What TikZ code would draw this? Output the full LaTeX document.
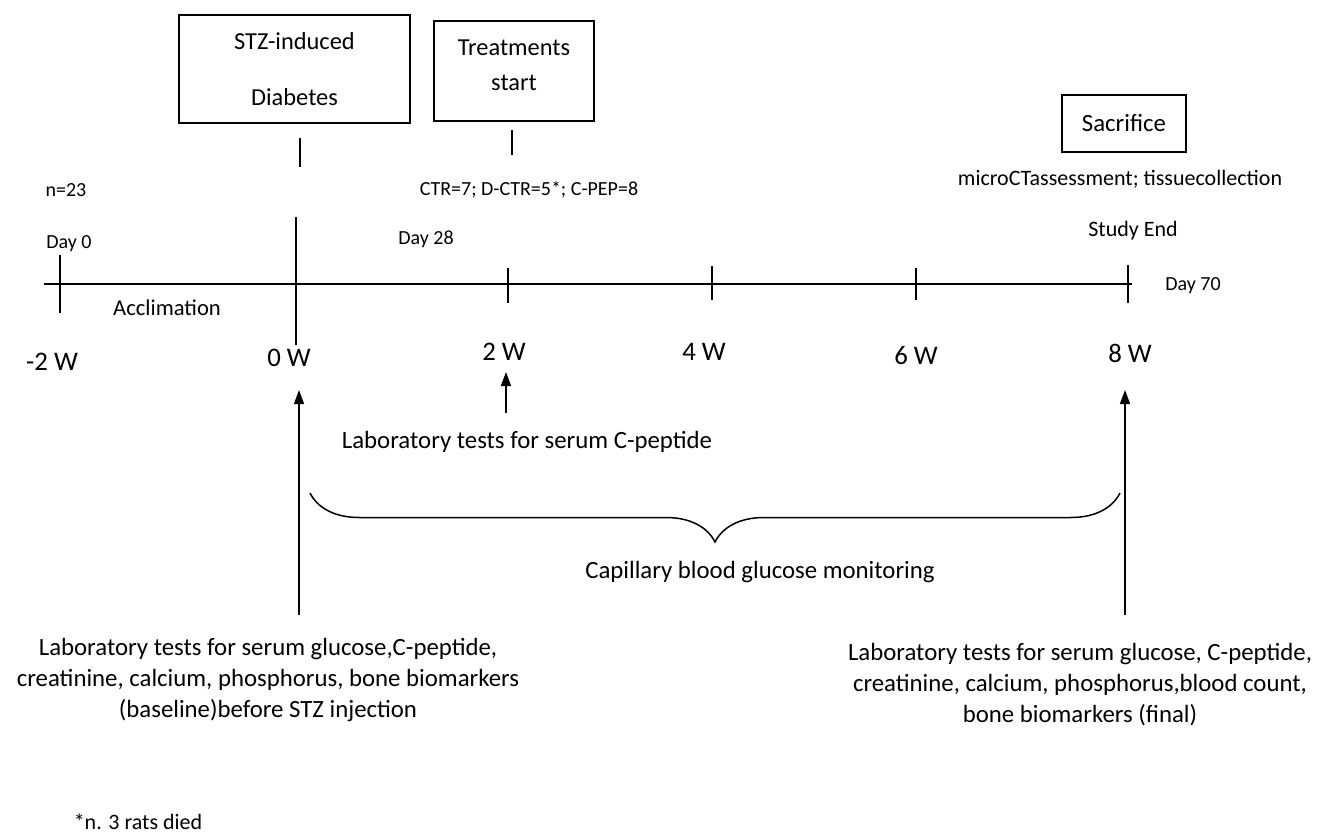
\documentclass[tikz,border=0pt]{standalone}
\usepackage{fontspec}
\setmainfont{Carlito}
\usetikzlibrary{arrows.meta,positioning,decorations.pathreplacing}

\begin{document}
\begin{tikzpicture}[
  x=0.5pt,y=-0.5pt,
  box/.style={draw,line width=0.7pt,align=center,inner sep=0pt},
  txt/.style={font=\fontsize{12.4}{15.5}\selectfont,align=center},
  small/.style={font=\fontsize{10}{12}\selectfont},
  wk/.style={font=\fontsize{13.4}{16}\selectfont},
  tick/.style={line width=0.75pt},
  arrow/.style={-{Triangle[length=7pt,width=5pt]},line width=0.75pt}
]
\useasboundingbox (0,0) rectangle (1318,835);

% event boxes
\node[box,minimum width=115.5pt,minimum height=54pt,
  font=\fontsize{12.2}{28}\selectfont] (stz) at (294.5,69) {STZ-induced\\Diabetes};
\node[box,minimum width=80pt,minimum height=50pt,
  label={[align=center,font=\fontsize{12.2}{17.5}\selectfont,yshift=3pt]center:Treatments\\start}]
  (treat) at (514,71) {};
\node[box,minimum width=62pt,minimum height=28.5pt,
  font=\fontsize{12.4}{15}\selectfont] (sac) at (1124,123.5) {Sacrifice};
\draw[tick] (300,138) -- (300,167);
\draw[tick] (512,130) -- (512,155);

% time axis
\coordinate (start) at (44,284);
\coordinate (end) at (1132,284);
\draw[line width=1pt] (start) -- (end);
\draw[tick] (296,217) -- (296,345);
\foreach \x/\a/\b in {60/255/313,508/268/303,712/266/300,916/268/300,1128/265/303}
  \draw[tick] (\x,\a) -- (\x,\b);

\foreach \nm/\x/\y/\lbl in {wm2/52/362/-2 W,w0/289/358/0 W,w2/504/352/2 W,
  w4/704/352/4 W,w6/916/356/6 W,w8/1130/353/8 W}
  \node[wk] (\nm) at (\x,\y) {\lbl};

% labels on the axis
\node[small] (n) at (66,190) {n=23};
\node[small] (groups) at (529,190) {CTR=7; D-CTR=5*; C-PEP=8};
\node[small] (d0) at (69,244) {Day 0};
\node[small] (d28) at (426,239) {Day 28};
\node[small] (d70) at (1193,286) {Day 70};
\node[txt,font=\fontsize{11.3}{14}\selectfont] (accl) at (167,308) {Acclimation};
\node[txt,font=\fontsize{11}{14}\selectfont] (micro) at (1120,179) {microCTassessment; tissuecollection};
\node[txt,font=\fontsize{11}{14}\selectfont] (studyend) at (1133,231) {Study End};

% tests
\coordinate (a0) at (299,615);
\coordinate (a0t) at (299,390);
\coordinate (a2) at (506,413);
\coordinate (a2t) at (506,372);
\coordinate (a8) at (1125,615);
\coordinate (a8t) at (1125,390);
\draw[arrow] (a0) -- (a0t);
\draw[arrow] (a2) -- (a2t);
\draw[arrow] (a8) -- (a8t);

\node[txt] (cpep) at (527,442) {Laboratory tests for serum C-peptide};

\coordinate (bl) at (310,493);
\coordinate (br) at (1120,493);
\draw[line width=0.75pt,decorate,decoration={brace,mirror,amplitude=24.5pt}] (bl) -- (br);
\node[txt] (gluc) at (760,572) {Capillary blood glucose monitoring};

\node[txt] (base) at (268,680) {Laboratory tests for serum glucose,C-peptide,\\
creatinine, calcium, phosphorus, bone biomarkers\\(baseline)before STZ injection};
\node[txt] (final) at (1080,685) {Laboratory tests for serum glucose, C-peptide,\\
creatinine, calcium, phosphorus,blood count,\\bone biomarkers (final)};

\node[txt,font=\fontsize{11}{14}\selectfont] (died) at (138,822) {*n. 3 rats died};
\end{tikzpicture}
\end{document}
